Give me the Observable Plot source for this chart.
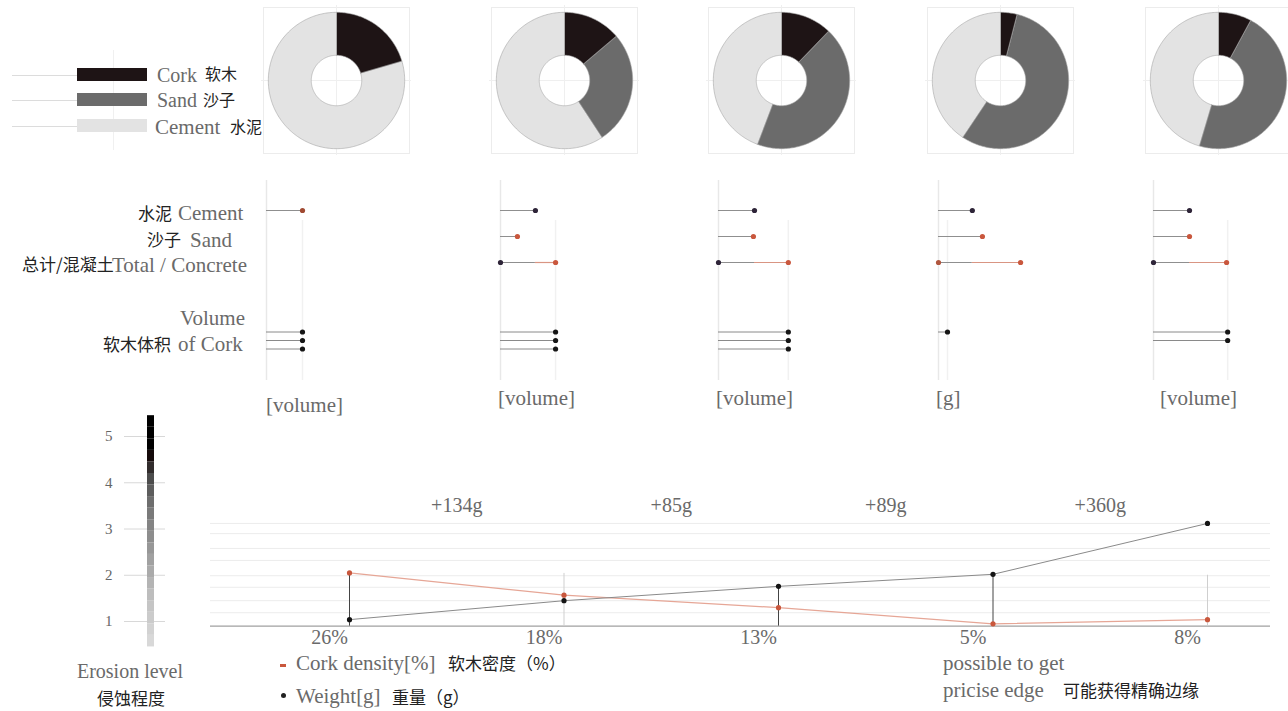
<!DOCTYPE html>
<html><head><meta charset="utf-8">
<script src="https://cdn.jsdelivr.net/npm/d3@7"></script>
<script src="https://cdn.jsdelivr.net/npm/@observablehq/plot@0.6"></script>
<style>
body{margin:0;background:#fff;}
#root{position:relative;width:1288px;height:711px;overflow:hidden;background:#fff;}
.en{position:absolute;font-family:"Liberation Serif","DejaVu Serif",serif;font-size:21px;color:#6a6a6a;white-space:nowrap;line-height:1;transform:translateY(-50%);}
.zh{position:absolute;font-family:"Noto Sans CJK SC",sans-serif;font-size:17px;color:#222;white-space:nowrap;line-height:1;transform:translateY(-50%);}
</style></head><body><div id="root"></div>
<script>
// ---------------- DATA ----------------
const panels = ["A", "B", "C", "D", "E"];
const materials = ["Cork", "Sand", "Cement"];
const materialZh = ["软木", "沙子", "水泥"];
// donut shares (%), clockwise from 12 o'clock
const corkShare   = [20.5, 13.8, 12.2, 4.0, 7.9];
const sandShare   = [0, 27.0, 43.6, 55.4, 46.7];
const cementShare = [79.5, 59.2, 44.2, 40.6, 45.4];
// dot panels (relative volume units)
const cementVol = [1.0, 0.97, 1.0, 0.94, 1.0];
const sandVol   = [null, 0.47, 0.97, 1.22, 1.0];
const totalVol  = [null, 1.53, 1.94, 2.28, 2.03];
const corkVol   = [[1.0, 1.0, 1.0], [1.53, 1.53, 1.53], [1.94, 1.94, 1.94], [0.25], [2.06, 2.06]];
const unitLabels = ["[volume]", "[volume]", "[volume]", "[g]", "[volume]"];
// bottom chart
const densityLabels = ["26%", "18%", "13%", "5%", "8%"];
const corkDensityLevel = [2.05, 1.57, 1.30, 0.95, 1.04];
const weightLevel = [1.04, 1.45, 1.76, 2.02, 3.12];
const guideTop = [2.05, 2.04, 1.76, 2.02, 2.0];
const weightGain = ["+134g", "+85g", "+89g", "+360g"];
const erosionTicks = [1, 2, 3, 4, 5];
const gridLevels = [3.12, 2.9, 2.58, 2.32, 1.99, 1.74, 1.45, 1.19];

// ---------------- LAYOUT ----------------
const root = document.getElementById("root");
const donutCX = [336, 564, 781, 1000, 1218];
const donutCY = 80;
const dotBase = [266, 500, 718, 938, 1153];
const matColors = ["#1e1415", "#6b6b6b", "#e3e3e3"];
const RED = "#c9573d", DARK = "#2e2438";
const SERIF = "Liberation Serif, DejaVu Serif, serif";

function put(svg, left, top) {
  svg.style.position = "absolute";
  svg.style.left = left + "px";
  svg.style.top = top + "px";
  root.appendChild(svg);
  return svg;
}
function label(cls, text, x, y, extra) {
  const d = document.createElement("div");
  d.className = cls; d.textContent = text;
  d.style.left = x + "px"; d.style.top = y + "px";
  if (extra) Object.assign(d.style, extra);
  root.appendChild(d);
  return d;
}
function box(x, y, w, h, bg) {
  const d = document.createElement("div");
  Object.assign(d.style, {position: "absolute", left: x + "px", top: y + "px", width: w + "px", height: h + "px", background: bg});
  root.appendChild(d);
}

// ---------------- LEGEND (top-left) ----------------
box(113, 50, 1, 100, "#f0f0f0");
[75, 100, 126].forEach((y, i) => {
  box(12, y, 65, 1, "#dcdcdc");
  box(77, y - 7, 70, 13, matColors[i]);
});
label("en", "Cork", 157, 75, {fontSize: "20px"});
label("zh", "软木", 205, 73, {fontSize: "16px"});
label("en", "Sand", 157, 100, {fontSize: "20px"});
label("zh", "沙子", 203, 99, {fontSize: "16px"});
label("en", "Cement", 155, 127);
label("zh", "水泥", 230, 126, {fontSize: "16px"});

// ---------------- DONUTS ----------------
const R0 = 0.37;
panels.forEach((p, k) => {
  const shares = [corkShare[k], sandShare[k], cementShare[k]];
  const pts = [];
  let a = 0;
  shares.forEach((s, m) => {
    if (!s) return;
    const a0 = a, a1 = a + s / 100 * 2 * Math.PI; a = a1;
    const n = Math.max(2, Math.ceil((a1 - a0) / 0.02));
    for (let i = 0; i <= n; i++) { const t = a0 + (a1 - a0) * i / n; pts.push({m: materials[m], x: Math.sin(t), y: Math.cos(t)}); }
    for (let i = n; i >= 0; i--) { const t = a0 + (a1 - a0) * i / n; pts.push({m: materials[m], x: R0 * Math.sin(t), y: R0 * Math.cos(t)}); }
  });
  const svg = Plot.plot({
    width: 150, height: 150, margin: 0,
    x: {domain: [-1.1, 1.1], axis: null},
    y: {domain: [-1.1, 1.1], axis: null},
    color: {domain: materials, range: matColors},
    marks: [
      Plot.frame({stroke: "#ececec", inset: 2}),
      Plot.ruleX([0], {stroke: "#efefef"}),
      Plot.ruleY([0], {stroke: "#efefef"}),
      Plot.line(pts, {x: "x", y: "y", z: "m", fill: "m", stroke: "#a5a5a5", strokeWidth: 0.6, curve: "linear-closed"})
    ]
  });
  put(svg, donutCX[k] - 75, donutCY - 75);
});

// ---------------- DOT PANELS ----------------
const rows = ["Cement", "Sand", "Total", "gapA", "gapB", "Cork"];
label("zh", "水泥", 138, 212);
label("en", "Cement", 178, 213);
label("zh", "沙子", 147, 238);
label("en", "Sand", 190, 240);
label("zh", "总计/混凝土", 22, 263);
label("en", "Total / Concrete", 112, 265);
label("en", "Volume", 180, 318);
label("zh", "软木体积", 103, 343);
label("en", "of Cork", 178, 344);

panels.forEach((p, k) => {
  const gray = [{row: "Cement", a: 0, b: cementVol[k]}];
  const redSeg = [];
  if (sandVol[k] != null) gray.push({row: "Sand", a: 0, b: sandVol[k]});
  if (totalVol[k] != null) {
    gray.push({row: "Total", a: 0, b: cementVol[k]});
    redSeg.push({row: "Total", a: cementVol[k], b: totalVol[k]});
  }
  const corkMarks = [];
  corkVol[k].forEach((v, r) => {
    corkMarks.push(Plot.ruleY([v], {y: () => "Cork", x1: () => 0, x2: d => d, dy: (r - 1) * 8.5, stroke: "#8a8a8a", strokeWidth: 1}));
    corkMarks.push(Plot.dot([v], {x: d => d, y: () => "Cork", dy: (r - 1) * 8.5, r: 2.6, fill: "#151515"}));
  });
  const guide = corkVol[k][0];
  const svg = Plot.plot({
    width: 150, height: 200, margin: 0,
    x: {domain: [0, 3], range: [10, 118], axis: null},
    y: {type: "point", domain: rows, range: [29, 161], padding: 0, axis: null},
    marks: [
      Plot.ruleX([0], {stroke: "#e8e8e8", strokeWidth: 1.5}),
      Plot.ruleX([guide], {stroke: "#f1f1f1", strokeWidth: 1.5, insetTop: 40}),
      Plot.ruleY(gray, {y: "row", x1: "a", x2: "b", stroke: "#8f8f8f", strokeWidth: 1}),
      Plot.ruleY(redSeg, {y: "row", x1: "a", x2: "b", stroke: "#d99583", strokeWidth: 1.2}),
      Plot.dot([cementVol[k]], {x: d => d, y: () => "Cement", r: 2.6, fill: k === 0 ? "#a04a32" : DARK}),
      Plot.dot(sandVol[k] != null ? [sandVol[k]] : [], {x: d => d, y: () => "Sand", r: 2.6, fill: RED}),
      Plot.dot(totalVol[k] != null ? [0] : [], {x: d => d, y: () => "Total", r: 2.6, fill: k === 3 ? "#b0563e" : DARK}),
      Plot.dot(totalVol[k] != null ? [totalVol[k]] : [], {x: d => d, y: () => "Total", r: 2.6, fill: RED}),
      ...corkMarks
    ]
  });
  put(svg, dotBase[k] - 10, 180);
  label("en", unitLabels[k], dotBase[k] + (k === 0 ? 0 : k === 4 ? 7 : -2), k === 0 ? 405 : 398);
});

// ---------------- EROSION COLOR BAR ----------------
const bands = d3.range(0.45, 5.45, 0.25).map(lo => ({lo, hi: lo + 0.25}));
const yScale = {domain: [1, 5], range: [221, 36]};
const barSvg = Plot.plot({
  width: 71, height: 311, marginLeft: 30, marginRight: 0, marginTop: 0, marginBottom: 0,
  y: {...yScale, axis: null},
  color: {type: "linear", domain: [0.5, 1.5, 2.5, 3.5, 4.1, 4.5], range: ["#dadada", "#c0c0c0", "#9a9a9a", "#737373", "#4a4a4a", "#1d1415"]},
  style: {fontFamily: SERIF},
  marks: [
    Plot.ruleY(erosionTicks, {y: d => d, stroke: "#d8d8d8"}),
    Plot.rect(bands, {y1: "lo", y2: "hi", fill: d => (d.lo + d.hi) / 2, insetLeft: 23, insetRight: 11}),
    Plot.text(erosionTicks, {y: d => d, text: d => String(d), frameAnchor: "left", dx: -12, textAnchor: "end", fontSize: 15, fill: "#666"})
  ]
});
put(barSvg, 94, 400);
label("en", "Erosion level", 130, 671, {transform: "translate(-50%,-50%)", fontSize: "20px"});
label("zh", "侵蚀程度", 131, 697, {transform: "translate(-50%,-50%)"});

// ---------------- LINE CHART ----------------
const idx = densityLabels.map((_, i) => i);
const lineSvg = Plot.plot({
  width: 1288, height: 311, marginLeft: 210, marginRight: 18, marginTop: 0, marginBottom: 0,
  x: {domain: [0, 4], range: [349, 1207], axis: null},
  y: {...yScale, axis: null},
  style: {fontFamily: SERIF},
  marks: [
    Plot.ruleY(gridLevels, {y: d => d, stroke: "#ececec"}),
    Plot.ruleY([0.9], {y: d => d, stroke: "#a0a0a0", strokeWidth: 1.2}),
    Plot.ruleX(idx, {x: d => d, y1: () => 0.9, y2: i => guideTop[i], stroke: i => (i === 1 || i === 4) ? "#cfcfcf" : "#444", strokeWidth: 1}),
    Plot.line(idx, {x: d => d, y: i => corkDensityLevel[i], stroke: "#e6a696", strokeWidth: 1.3}),
    Plot.line(idx, {x: d => d, y: i => weightLevel[i], stroke: "#8a8a8a", strokeWidth: 1}),
    Plot.dot(idx, {x: d => d, y: i => corkDensityLevel[i], r: 2.6, fill: RED}),
    Plot.dot(idx, {x: d => d, y: i => weightLevel[i], r: 2.6, fill: "#141414"}),
    Plot.text(weightGain, {x: (d, i) => i + 0.5, y: () => 3.5, text: d => d, fontSize: 20, fill: "#6a6a6a"}),
    Plot.text(densityLabels, {x: (d, i) => i, y: () => 0.9, dy: 11, dx: (-20), text: d => d, fontSize: 20, fill: "#6a6a6a"})
  ]
});
put(lineSvg, 0, 400);

// ---------------- BOTTOM LEGEND ----------------
box(280, 664, 6, 3, RED);
label("en", "Cork density[%]", 296, 663);
label("zh", "软木密度（%）", 448, 662);
const dotEl = document.createElement("div");
Object.assign(dotEl.style, {position: "absolute", left: "281px", top: "693px", width: "5px", height: "5px", borderRadius: "50%", background: "#222"});
root.appendChild(dotEl);
label("en", "Weight[g]", 296, 696);
label("zh", "重量（g）", 392, 696);
label("en", "possible to get", 943, 663);
label("en", "pricise edge", 943, 690);
label("zh", "可能获得精确边缘", 1063, 689);
</script></body></html>
